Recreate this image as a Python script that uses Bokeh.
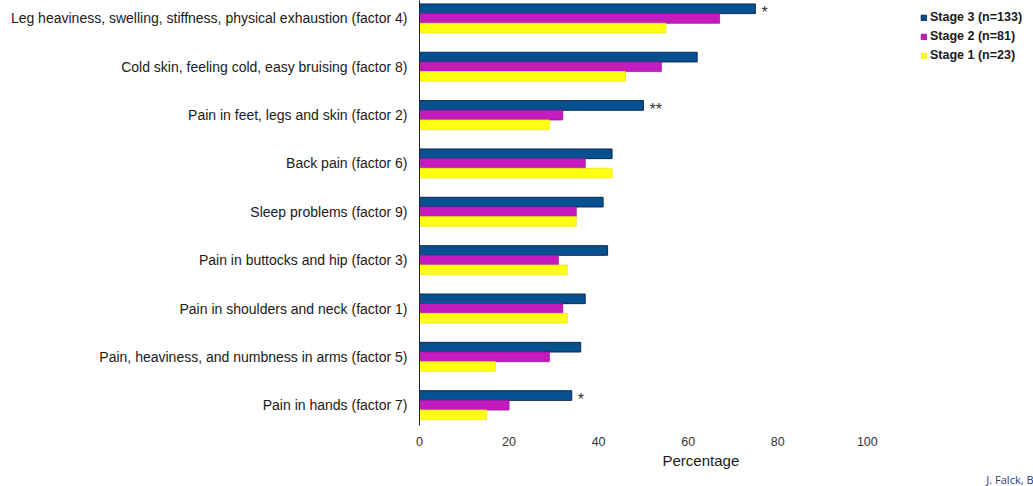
from bokeh.plotting import figure
from bokeh.models import ColumnDataSource, FixedTicker, Range1d, Legend, LegendItem, Title
from bokeh.core.properties import value
from bokeh.embed import file_html
from bokeh.resources import INLINE

# ---- data (top to bottom as in the reference) ----
categories = [
    "Leg heaviness, swelling, stiffness, physical exhaustion (factor 4)",
    "Cold skin, feeling cold, easy bruising (factor 8)",
    "Pain in feet, legs and skin (factor 2)",
    "Back pain (factor 6)",
    "Sleep problems (factor 9)",
    "Pain in buttocks and hip (factor 3)",
    "Pain in shoulders and neck (factor 1)",
    "Pain, heaviness, and numbness in arms (factor 5)",
    "Pain in hands (factor 7)",
]
stage3 = [75, 62, 50, 43, 41, 42, 37, 36, 34]
stage2 = [67, 54, 32, 37, 35, 31, 32, 29, 20]
stage1 = [55, 46, 29, 43, 35, 33, 33, 17, 15]
significance = ["*", "", "**", "", "", "", "", "", "*"]
series_names = ["Stage 3 (n=133)", "Stage 2 (n=81)", "Stage 1 (n=23)"]
x_ticks = [0, 20, 40, 60, 80, 100]
x_title = "Percentage"
credit_text = "J. Falck, B"

n = len(categories)
pos = [n - 1 - i for i in range(n)]
BAR_H = 0.2

src = ColumnDataSource(dict(
    pos=pos,
    y3=[p_ + BAR_H for p_ in pos],
    y2=pos,
    y1=[p_ - BAR_H for p_ in pos],
    s3=stage3, s2=stage2, s1=stage1,
    sig=significance,
))

FONT = "Liberation Sans"

p = figure(width=1033, height=486, output_backend="svg", toolbar_location=None,
           x_range=Range1d(0, 137.1), y_range=Range1d(-0.42, n - 1 + 0.371),
           min_border_left=419, min_border_right=0, min_border_top=0, min_border_bottom=56)
p.outline_line_color = None
p.grid.grid_line_color = None
p.background_fill_color = "white"

r3 = p.hbar(y="y3", right="s3", left=0, height=BAR_H, source=src,
            fill_color="#05508f", line_color="#0d2b55", line_width=1)
r2 = p.hbar(y="y2", right="s2", left=0, height=BAR_H, source=src,
            fill_color="#c41bbf", line_color="#a0159c", line_width=0.8)
r1 = p.hbar(y="y1", right="s1", left=0, height=BAR_H, source=src,
            fill_color="#ffff14", line_color="#f5e020", line_width=0.8)

p.text(x="s3", y="y3", text="sig", source=src, x_offset=6, y_offset=4,
       text_font=value(FONT), text_font_size="16px", text_color="#333333",
       text_baseline="middle", text_align="left")

# y axis
ya = p.yaxis[0]
ya.ticker = FixedTicker(ticks=pos)
ya.major_label_overrides = {pp: c for pp, c in zip(pos, categories)}
ya.major_tick_line_color = None
ya.major_tick_out = 0
ya.major_tick_in = 0
ya.minor_tick_line_color = None
ya.axis_line_color = "#222222"
ya.axis_line_width = 1
ya.major_label_standoff = 12
ya.major_label_text_font = FONT
ya.major_label_text_font_size = "14px"
ya.major_label_text_color = "#1a1a1a"

# x axis
xa = p.xaxis[0]
xa.ticker = FixedTicker(ticks=x_ticks)
xa.axis_line_color = None
xa.major_tick_line_color = None
xa.major_tick_out = 0
xa.major_tick_in = 0
xa.minor_tick_line_color = None
xa.major_label_standoff = 11
xa.major_label_text_font = FONT
xa.major_label_text_font_size = "12.5px"
xa.major_label_text_color = "#333333"


def make_title(text, **kw):
    t = Title(text=text)
    props = t.properties()
    for k, v in kw.items():
        if k in props:
            setattr(t, k, v)
    return t


# axis title, off-centre as in the reference
t_x = make_title(x_title, align="left", offset=243, standoff=2,
                 text_font=FONT, text_font_size="15px", text_font_style="normal",
                 text_color="#1a1a1a")
p.add_layout(t_x, "below")

# cut-off credit at the bottom right
t_c = make_title(credit_text, align="right", offset=0, standoff=0,
                 text_font="Open Sans", text_font_size="11px", text_font_style="normal",
                 text_color="#1f3c7a")
p.add_layout(t_c, "below")

legend = Legend(items=[LegendItem(label=series_names[0], renderers=[r3]),
                       LegendItem(label=series_names[1], renderers=[r2]),
                       LegendItem(label=series_names[2], renderers=[r1])],
                location=(501, 362), orientation="vertical")
legend.glyph_width = 7
legend.glyph_height = 7
legend.label_height = 16
legend.spacing = 3
legend.padding = 2
legend.margin = 0
legend.label_standoff = 3
legend.label_text_font = FONT
legend.label_text_font_size = "12.5px"
legend.label_text_font_style = "bold"
legend.label_text_color = "#1a1a1a"
legend.border_line_color = None
legend.background_fill_alpha = 0
p.add_layout(legend, "center")

open("out.html", "w").write(file_html(p, INLINE))
